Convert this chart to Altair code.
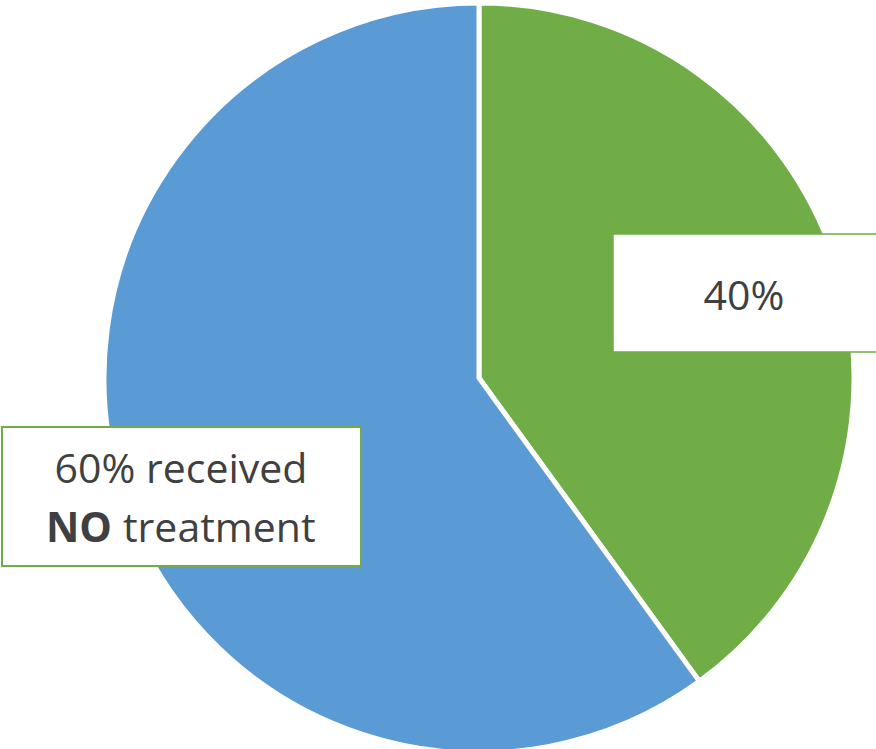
import altair as alt
import pandas as pd

categories = ["Received treatment", "Received NO treatment"]
values = [40, 60]
order = [0, 1]
colors = ["#70AD47", "#5B9BD5"]

df = pd.DataFrame({"category": categories, "value": values, "order": order})

W, H = 876, 749
FONT = "Open Sans"
TXT = "#404040"
GREEN = "#70AD47"
FS = 41

pie = alt.Chart(df).mark_arc(outerRadius=375, stroke="white", strokeWidth=5).encode(
    theta=alt.Theta("value:Q", stack=True),
    order=alt.Order("order:Q"),
    color=alt.Color("category:N", scale=alt.Scale(domain=categories, range=colors), legend=None),
    x=alt.value(479),
    y=alt.value(378),
)

dummy = pd.DataFrame({"a": [0]})

box40 = alt.Chart(dummy).mark_rect(fill="white", stroke=GREEN, strokeWidth=1.5).encode(
    x=alt.value(613), x2=alt.value(880), y=alt.value(234), y2=alt.value(352)
)
box60 = alt.Chart(dummy).mark_rect(fill="white", stroke=GREEN, strokeWidth=2).encode(
    x=alt.value(2), x2=alt.value(361), y=alt.value(427), y2=alt.value(566)
)

t40 = alt.Chart(dummy).mark_text(font=FONT, fontSize=FS, color=TXT, align="center", baseline="alphabetic").encode(
    x=alt.value(744), y=alt.value(310), text=alt.value(f"{values[0]}%")
)
t60a = alt.Chart(dummy).mark_text(font=FONT, fontSize=FS, color=TXT, align="center", baseline="alphabetic").encode(
    x=alt.value(181), y=alt.value(483), text=alt.value(f"{values[1]}% received")
)
t60b = alt.Chart(dummy).mark_text(font=FONT, fontSize=FS, fontWeight="bold", color=TXT, align="left", baseline="alphabetic").encode(
    x=alt.value(46), y=alt.value(542), text=alt.value("NO")
)
t60c = alt.Chart(dummy).mark_text(font=FONT, fontSize=FS, color=TXT, align="left", baseline="alphabetic").encode(
    x=alt.value(123), y=alt.value(542), text=alt.value("treatment")
)

chart = alt.layer(pie, box40, box60, t40, t60a, t60b, t60c).properties(
    width=W, height=H, autosize=alt.AutoSizeParams(type="none"), padding=0
).configure_view(stroke=None)

chart.save("out.html", embed_options={"renderer": "svg", "actions": False})
